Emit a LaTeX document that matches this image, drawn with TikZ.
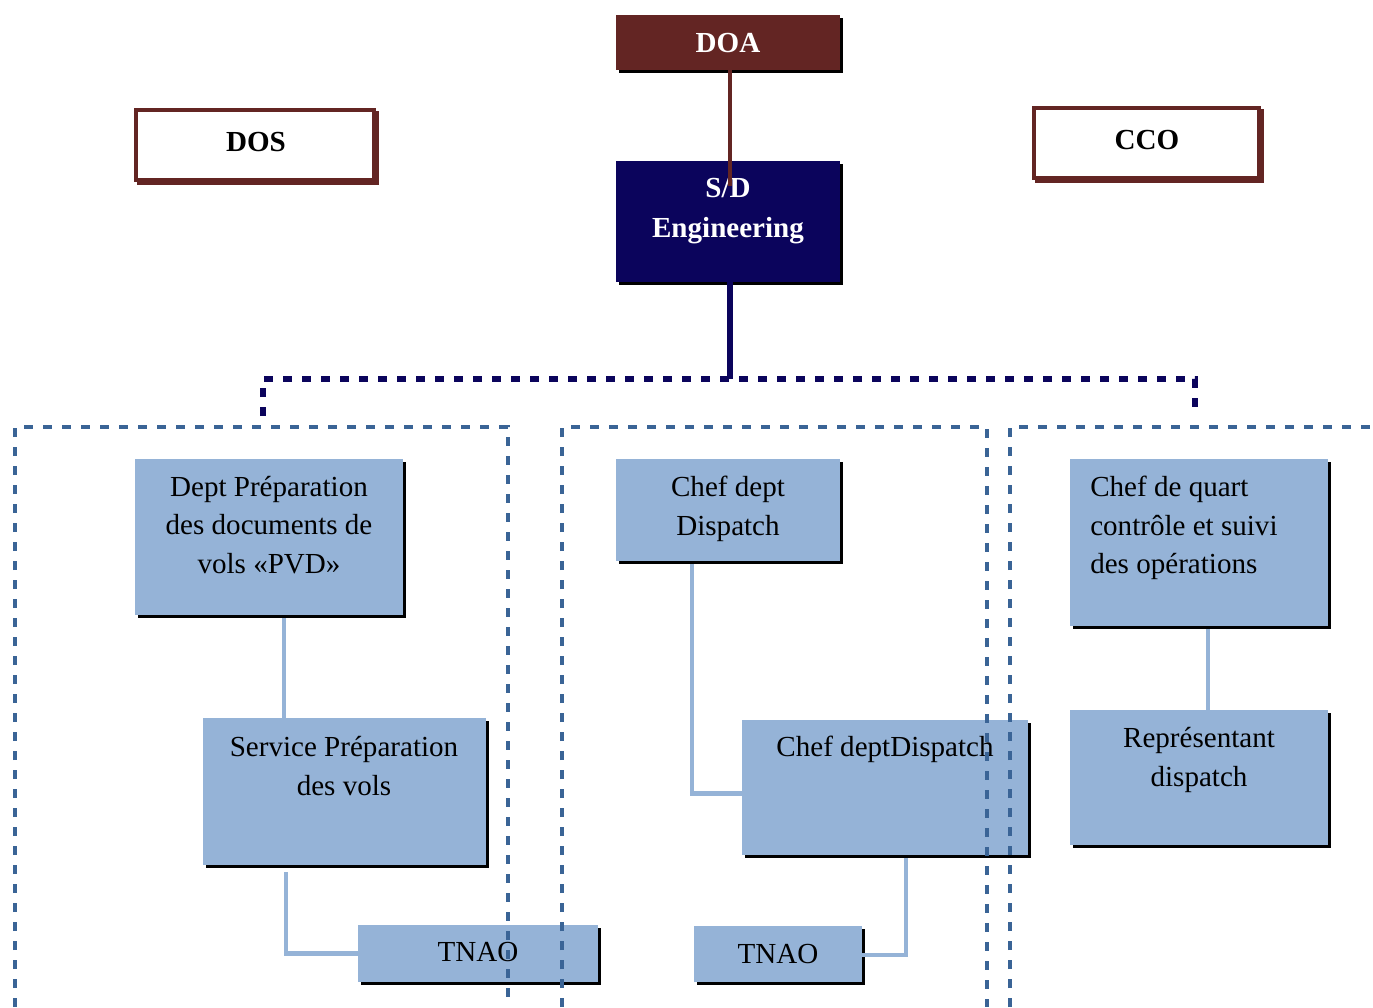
\documentclass[tikz,border=0pt]{standalone}
\usepackage{fontspec}
\setmainfont{Liberation Serif}
\usetikzlibrary{shadows}

\definecolor{doared}{HTML}{632523}
\definecolor{sdnavy}{HTML}{0B045C}
\definecolor{unitblue}{HTML}{95B3D7}
\definecolor{frameblue}{HTML}{3A6496}

\tikzset{
  hardshadow/.style={general shadow={fill=black, shadow xshift=2.25pt, shadow yshift=-2.25pt}},
  boxbase/.style={inner sep=0pt, outer sep=0pt, anchor=north west},
  unit/.style={boxbase, fill=unitblue, hardshadow},
  headred/.style={boxbase, fill=doared, hardshadow},
  headnavy/.style={boxbase, fill=sdnavy, hardshadow},
  sidebox/.style={boxbase, fill=white, draw=doared, line width=3pt,
    general shadow={draw=doared, line width=3pt, shadow xshift=2pt, shadow yshift=-2pt}},
  lbl/.style={font=\fontsize{21.8}{28.9}\selectfont, align=center, inner sep=0pt},
  lblbold/.style={lbl, font=\fontsize{21.8}{29.5}\selectfont\bfseries},
  conn/.style={draw=unitblue, line width=3.2pt},
  frame/.style={draw=frameblue, line width=3.3pt, dash pattern=on 6.75pt off 7.5pt},
  navyframe/.style={draw=sdnavy, line width=3.8pt, dash pattern=on 7pt off 7.25pt},
}

% box given by its top-left and bottom-right corners (pixel grid)
\newcommand\orgbox[6][]{%
  \node[#1, minimum width={(#5-#3)*0.75pt}, minimum height={(#6-#4)*0.75pt}] (#2) at (#3,#4) {};}

\begin{document}
\begin{tikzpicture}[x=0.75pt, y=-0.75pt]
\useasboundingbox (0,0) rectangle (1373,1007);

% ---- top level ----
\orgbox[headred]{doa}{616}{15}{840}{70}
\orgbox[headnavy]{sd}{616}{161}{840}{282}
\orgbox[sidebox]{dos}{136}{110}{374}{180}
\orgbox[sidebox]{cco}{1034}{108}{1259}{178}

\node[lblbold, text=white] (doat) at (728,43) {DOA};
\node[lblbold, text=white] (sdt) at (728,211) {S/D\\Engineering};
\node[lblbold] (dost) at (256,142) {DOS};
\node[lblbold] (ccot) at (1147,140) {CCO};

\coordinate (sdin) at (730,186);
\draw[doared, line width=3.7pt] (doa.south -| sdin) -- (sdin);

\coordinate (hub) at (730,379);
\coordinate (navyl) at (263,416);
\coordinate (navyr) at (1195,416);
\draw[sdnavy, line width=3.8pt] (sd.south -| hub) -- (hub);
\draw[navyframe] (navyl) |- (hub) -| (navyr);

% ---- units ----
\orgbox[unit]{pvd}{135}{459}{403}{615}
\orgbox[unit]{svc}{203}{718}{486}{865}
\orgbox[unit]{tnaoa}{358}{925}{598}{982}
\orgbox[unit]{cdd}{616}{459}{840}{561}
\orgbox[unit]{cddb}{742}{720}{1028}{855}
\orgbox[unit]{tnaob}{694}{926}{862}{982}
\orgbox[unit]{cq}{1070}{459}{1328}{626}
\orgbox[unit]{rep}{1070}{710}{1328}{845}

\node[lbl] (pvdt) at (269,525) {Dept Préparation\\des documents de\\vols «PVD»};
\node[lbl] (svct) at (344,766) {Service Préparation\\des vols};
\node[lbl] (tnaoat) at (478,952) {TNAO};
\node[lbl] (cddt) at (728,509) {Chef dept\\Dispatch};
\node[lbl] (cddbt) at (885,749) {Chef deptDispatch};
\node[lbl] (tnaobt) at (778,954) {TNAO};
\node[lbl, align=left, anchor=west] (cqt) at (1090,528) {Chef de quart\\contrôle et suivi\\des opérations};
\node[lbl] (rept) at (1199,760) {Représentant\\dispatch};

% ---- unit links ----
\coordinate (xa) at (284,0);
\coordinate (xb) at (286,0);
\coordinate (xc) at (692,0);
\coordinate (xd) at (906,0);
\coordinate (xe) at (1208,0);
\draw[conn] ([yshift=-2.25pt]pvd.south -| xa) -- (svc.north -| xa);
\draw[conn] ([yshift=-5.5pt]svc.south -| xb) |- (tnaoa.west);
\draw[conn] ([yshift=-2.25pt]cdd.south -| xc) |- ([yshift=-4.5pt]cddb.west);
\draw[conn] ([yshift=-2.25pt]cddb.south -| xd) |- ([yshift=-1pt]tnaob.east);
\draw[conn] ([yshift=-2.25pt]cq.south -| xe) -- (rep.north -| xe);

% ---- dashed groupings ----
\coordinate (fa1) at (15,1007);   \coordinate (fa2) at (508,427);
\coordinate (fb1) at (562,1007);  \coordinate (fb2) at (987,427);
\coordinate (fc1) at (1010,1007); \coordinate (fc2) at (1373,427);
\draw[frame] (fa1) |- (fa2) -- (fa2 |- fa1);
\draw[frame] (fb1) |- (fb2) -- (fb2 |- fb1);
\draw[frame] (fc1) |- (fc2);
\end{tikzpicture}
\end{document}
